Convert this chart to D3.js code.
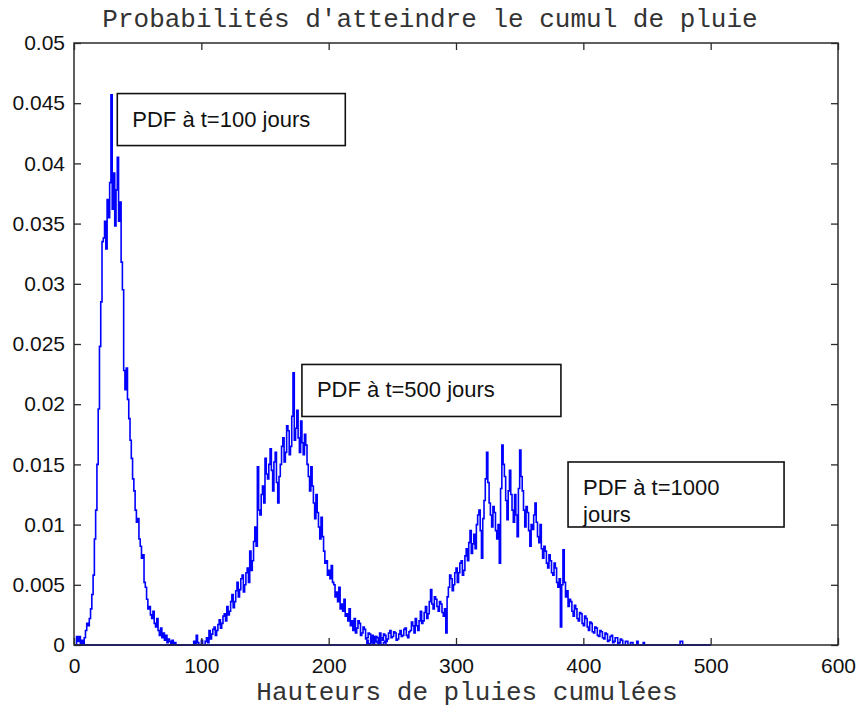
<!DOCTYPE html>
<html>
<head>
<meta charset="utf-8">
<script src="https://cdn.jsdelivr.net/npm/d3@7"></script>
<style>
  html, body { margin: 0; padding: 0; background: #fff; }
  svg { display: block; }
</style>
</head>
<body>
<svg id="chart" width="859" height="713"></svg>
<script>
// ---- Data ----
const xTicks = [0, 100, 200, 300, 400, 500, 600];
const yTicks = [0, 0.005, 0.01, 0.015, 0.02, 0.025, 0.03, 0.035, 0.04, 0.045, 0.05];
const yTickLabels = ["0", "0.005", "0.01", "0.015", "0.02", "0.025", "0.03", "0.035", "0.04", "0.045", "0.05"];
const xDomain = [0, 600];
const yDomain = [0, 0.05];
const support = [0, 500];

// PDF at t=100 days, bins of width 1 starting at 0
const pdf100Start = 0, pdf100Step = 1;
const pdf100 = [
  0, 0, 0.0007, 0.0003, 0.0007, 0, 0.0004, 0, 0.0006, 0.0012,
  0.0018, 0.0016, 0.0022, 0.0030, 0.0042, 0.0058, 0.0088, 0.0112, 0.0150, 0.0196,
  0.0248, 0.0285, 0.0335, 0.0338, 0.0352, 0.0329, 0.0370, 0.0355, 0.0384, 0.0457,
  0.0362, 0.0392, 0.0348, 0.0378, 0.0405, 0.0352, 0.0368, 0.0318, 0.0295, 0.0228,
  0.0212, 0.0230, 0.0204, 0.0188, 0.0170, 0.0155, 0.0138, 0.0128, 0.0112, 0.0102,
  0.0105, 0.0088, 0.0082, 0.0072, 0.0075, 0.0052, 0.0048, 0.0038, 0.0030, 0.0032,
  0.0025, 0.0022, 0.0028, 0.0018, 0.0015, 0.0022, 0.0012, 0.0008, 0.0014, 0.0006,
  0.0010, 0.0004, 0.0008, 0.0002, 0.0005, 0.0003, 0, 0.0004, 0, 0.0002,
  0, 0, 0, 0, 0
];

// PDF at t=500 days, bins of width 1 starting at 94
const pdf500Start = 94, pdf500Step = 1;
const pdf500 = [
  0.0003, 0, 0.0008, 0.0002, 0, 0, 0.0004, 0, 0, 0.0003,
  0.0006, 0.0002, 0.0012, 0.0005, 0.0009, 0.0013, 0.0015, 0.0008, 0.0012, 0.0017,
  0.0021, 0.0014, 0.0018, 0.0024, 0.0026, 0.0020, 0.0032, 0.0025, 0.0028, 0.0036,
  0.0042, 0.0031, 0.0036, 0.0045, 0.0052, 0.0040, 0.0046, 0.0055, 0.0058, 0.0044,
  0.0050, 0.0060, 0.0064, 0.0052, 0.0078, 0.0062, 0.0070, 0.0086, 0.0098, 0.0082,
  0.0148, 0.0112, 0.0108, 0.0125, 0.0132, 0.0118, 0.0155, 0.0142, 0.0138, 0.0150,
  0.0163, 0.0145, 0.0128, 0.0152, 0.0160, 0.0135, 0.0118, 0.0140, 0.0150, 0.0165,
  0.0172, 0.0152, 0.0160, 0.0182, 0.0178, 0.0158, 0.0165, 0.0190, 0.0226, 0.0170,
  0.0180, 0.0195, 0.0172, 0.0160, 0.0186, 0.0168, 0.0158, 0.0175, 0.0166, 0.0150,
  0.0140, 0.0128, 0.0148, 0.0132, 0.0118, 0.0105, 0.0125, 0.0110, 0.0098, 0.0088,
  0.0106, 0.0090, 0.0078, 0.0068, 0.0070, 0.0058, 0.0062, 0.0055, 0.0066, 0.0052,
  0.0050, 0.0040, 0.0044, 0.0036, 0.0048, 0.0030, 0.0034, 0.0028, 0.0038, 0.0024,
  0.0026, 0.0020, 0.0030, 0.0016, 0.0020, 0.0012, 0.0022, 0.0010, 0.0014, 0.0020,
  0.0018, 0.0008, 0.0010, 0.0015, 0.0013, 0.0005, 0.0006, 0.0010, 0.0009, 0.0002,
  0.0004, 0, 0.0007, 0.0003, 0.0002, 0, 0.0005, 0, 0, 0.0002,
  0.0003, 0, 0
];

// PDF at t=1000 days, bins of width 1 starting at 230
const pdf1000Start = 230, pdf1000Step = 1;
const pdf1000 = [
  0.0004, 0.0001, 0, 0.0005, 0.0008, 0.0002, 0.0003, 0.0007, 0.0006, 0.0002,
  0.0010, 0.0006, 0.0004, 0.0009, 0.0008, 0.0003, 0.0005, 0.0010, 0.0012, 0.0006,
  0.0007, 0.0011, 0.0010, 0.0004, 0.0005, 0.0009, 0.0012, 0.0007, 0.0008, 0.0013,
  0.0014, 0.0008, 0.0006, 0.0011, 0.0012, 0.0019, 0.0016, 0.0010, 0.0022, 0.0016,
  0.0012, 0.0020, 0.0028, 0.0018, 0.0020, 0.0027, 0.0032, 0.0022, 0.0026, 0.0036,
  0.0046, 0.0034, 0.0030, 0.0040, 0.0038, 0.0032, 0.0028, 0.0036, 0.0034, 0.0027,
  0.0024, 0.0030, 0.0010, 0.0040, 0.0048, 0.0058, 0.0055, 0.0045, 0.0050, 0.0060,
  0.0064, 0.0052, 0.0060, 0.0068, 0.0070, 0.0058, 0.0062, 0.0074, 0.0080, 0.0070,
  0.0085, 0.0095, 0.0076, 0.0084, 0.0092, 0.0080, 0.0100, 0.0108, 0.0112, 0.0095,
  0.0072, 0.0105, 0.0120, 0.0138, 0.0160, 0.0135, 0.0118, 0.0108, 0.0098, 0.0115,
  0.0110, 0.0095, 0.0088, 0.0100, 0.0068, 0.0130, 0.0166, 0.0150, 0.0140, 0.0120,
  0.0104, 0.0128, 0.0145, 0.0125, 0.0112, 0.0102, 0.0125, 0.0108, 0.0090, 0.0130,
  0.0162, 0.0140, 0.0128, 0.0112, 0.0098, 0.0115, 0.0110, 0.0095, 0.0082, 0.0100,
  0.0096, 0.0108, 0.0118, 0.0102, 0.0090, 0.0085, 0.0100, 0.0080, 0.0072, 0.0082,
  0.0078, 0.0068, 0.0064, 0.0075, 0.0070, 0.0060, 0.0058, 0.0068, 0.0064, 0.0052,
  0.0048, 0.0055, 0.0015, 0.0050, 0.0079, 0.0052, 0.0040, 0.0045, 0.0032, 0.0038,
  0.0036, 0.0028, 0.0024, 0.0033, 0.0030, 0.0022, 0.0020, 0.0027, 0.0026, 0.0018,
  0.0016, 0.0024, 0.0022, 0.0015, 0.0012, 0.0019, 0.0018, 0.0011, 0.0010, 0.0015,
  0.0014, 0.0008, 0.0007, 0.0012, 0.0011, 0.0006, 0.0005, 0.0010, 0.0009, 0.0003,
  0.0004, 0.0007, 0.0008, 0.0002, 0.0003, 0.0006, 0.0006, 0.0001, 0.0002, 0.0005,
  0.0004, 0, 0, 0.0003, 0.0003, 0, 0, 0.0002, 0.0002, 0,
  0, 0, 0.0003, 0, 0, 0, 0, 0.0002, 0, 0,
  0, 0, 0, 0, 0, 0, 0, 0, 0, 0,
  0, 0, 0, 0, 0, 0, 0, 0, 0, 0,
  0, 0, 0, 0, 0, 0, 0.0003, 0.0003, 0
];

const titleText = "Probabilités d'atteindre le cumul de pluie";
const xLabelText = "Hauteurs de pluies cumulées";
const annotations = [
  { lines: ["PDF à t=100 jours"], at: [34, 0.0458] },
  { lines: ["PDF à t=500 jours"], at: [179, 0.0233] },
  { lines: ["PDF à t=1000", "jours"], at: [388, 0.0152] }
];

// ---- Layout ----
const margin = { left: 74, right: 21, top: 43, bottom: 68 };
const W = 859, H = 713;
const svg = d3.select("#chart");
svg.append("rect").attr("width", W).attr("height", H).attr("fill", "#fff");

const x = d3.scaleLinear().domain(xDomain).range([margin.left, W - margin.right]);
const y = d3.scaleLinear().domain(yDomain).range([H - margin.bottom, margin.top]);

const axisColor = "#2b2b2b";
const tickFont = "'Liberation Sans', Arial, sans-serif";
const monoFont = "'Liberation Mono', 'Courier New', monospace";

function toPoints(start, step, vals) {
  const pts = [[support[0], 0]];
  vals.forEach((v, i) => pts.push([start + i * step, v]));
  pts.push([support[1], 0]);
  return pts;
}

const line = d3.line()
  .x(d => x(d[0]))
  .y(d => y(d[1]))
  .curve(d3.curveStepAfter);

const series = [
  toPoints(pdf100Start, pdf100Step, pdf100),
  toPoints(pdf500Start, pdf500Step, pdf500),
  toPoints(pdf1000Start, pdf1000Step, pdf1000)
];

const plot = svg.append("g");
series.forEach(pts => {
  plot.append("path")
    .datum(pts)
    .attr("fill", "none")
    .attr("stroke", "#0000ff")
    .attr("stroke-width", 1.6)
    .attr("stroke-linejoin", "miter")
    .attr("d", line);
});

// ---- Axes ----
function styleAxis(g, showLabels) {
  g.select(".domain").remove();
  g.selectAll(".tick line").attr("stroke", axisColor).attr("stroke-width", 1.3);
  g.selectAll(".tick text")
    .attr("fill", "#111")
    .style("font-family", tickFont)
    .style("font-size", "21px");
  if (!showLabels) g.selectAll(".tick text").remove();
}

svg.append("g")
  .attr("transform", `translate(0,${y(0)})`)
  .call(d3.axisBottom(x).tickValues(xTicks).tickSize(-7).tickPadding(13).tickFormat(d3.format("d")))
  .call(g => styleAxis(g, true));

svg.append("g")
  .attr("transform", `translate(0,${y(yDomain[1])})`)
  .call(d3.axisTop(x).tickValues(xTicks).tickSize(-7))
  .call(g => styleAxis(g, false));

svg.append("g")
  .attr("transform", `translate(${x(0)},0)`)
  .call(d3.axisLeft(y).tickValues(yTicks).tickSize(-7).tickPadding(9)
    .tickFormat((d, i) => yTickLabels[i]))
  .call(g => styleAxis(g, true));

svg.append("g")
  .attr("transform", `translate(${x(xDomain[1])},0)`)
  .call(d3.axisRight(y).tickValues(yTicks).tickSize(-7))
  .call(g => styleAxis(g, false));

svg.append("rect")
  .attr("x", x(xDomain[0])).attr("y", y(yDomain[1]))
  .attr("width", x(xDomain[1]) - x(xDomain[0]))
  .attr("height", y(yDomain[0]) - y(yDomain[1]))
  .attr("fill", "none").attr("stroke", axisColor).attr("stroke-width", 1.5);

// ---- Title & label ----
svg.append("text")
  .attr("x", 430).attr("y", 27)
  .attr("text-anchor", "middle")
  .style("font-family", monoFont).style("font-size", "26px")
  .attr("fill", "#333")
  .text(titleText);

svg.append("text")
  .attr("x", 467).attr("y", 700)
  .attr("text-anchor", "middle")
  .style("font-family", monoFont).style("font-size", "26px")
  .attr("fill", "#333")
  .text(xLabelText);

// ---- Annotations ----
annotations.forEach(a => {
  const g = svg.append("g").attr("transform", `translate(${x(a.at[0])},${y(a.at[1])})`);
  const t = g.append("text")
    .style("font-family", tickFont).style("font-size", "22px")
    .attr("fill", "#111");
  a.lines.forEach((l, i) => {
    t.append("tspan").attr("x", 15).attr("y", 33 + i * 27).text(l);
  });
  const boxW = a.lines.length > 1 ? 216 : 228 + (a.at[0] > 100 ? 31 : 0);
  const boxH = a.lines.length > 1 ? 65 : 52;
  g.insert("rect", "text")
    .attr("x", 0).attr("y", 0)
    .attr("width", boxW).attr("height", boxH)
    .attr("fill", "#fff").attr("stroke", "#111").attr("stroke-width", 1.6);
});
</script>
</body>
</html>
